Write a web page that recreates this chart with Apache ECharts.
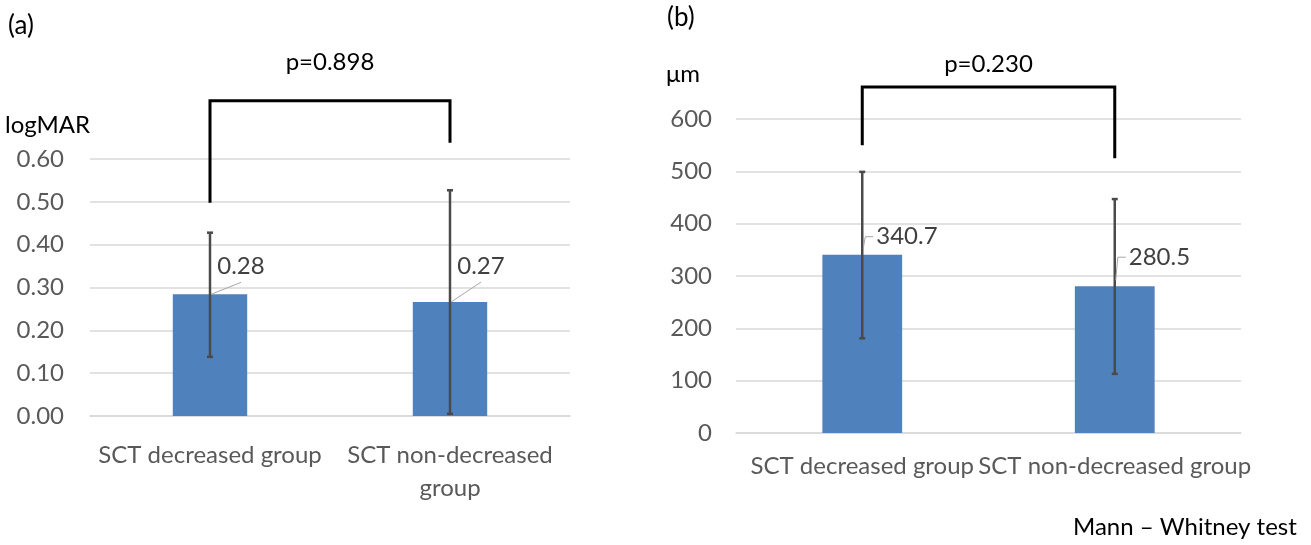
<!DOCTYPE html>
<html>
<head>
<meta charset="utf-8">
<script src="https://cdn.jsdelivr.net/npm/echarts@6/dist/echarts.min.js"></script>
<style>html,body{margin:0;padding:0;background:#fff}#c{width:1311px;height:545px}</style>
</head>
<body>
<div id="c"></div>
<script>
// ---- data ----
const categories = ['SCT decreased group', 'SCT non-decreased group'];
const logmarMean = [0.284, 0.266];
const logmarLabels = ['0.28', '0.27'];
const logmarLow = [0.138, 0.005];
const logmarHigh = [0.428, 0.527];
const sctMean = [340.7, 280.5];
const sctLabels = ['340.7', '280.5'];
const sctLow = [181, 113];
const sctHigh = [499, 447];
const logmarAxis = { min: 0, max: 0.6, step: 0.1 };
const sctAxis = { min: 0, max: 600, step: 100 };
const pValues = ['p=0.898', 'p=0.230'];
// bracket: [top, left end, right end, p-text level] in axis units
const logmarBracket = [0.736, 0.498, 0.638, 0.827];
const sctBracket = [661, 550, 525, 705];

const FONT = 'Lato, "Open Sans", sans-serif';
const chart = echarts.init(document.getElementById('c'), null, { renderer: 'canvas' });

function errItem(params, api) {
  const x = api.value(0);
  const lo = api.coord([x, api.value(1)]);
  const hi = api.coord([x, api.value(2)]);
  const st = { stroke: '#4a4a4a', lineWidth: 2.5 };
  return { type: 'group', children: [
    { type: 'line', shape: { x1: lo[0], y1: lo[1], x2: hi[0], y2: hi[1] }, style: st },
    { type: 'line', shape: { x1: hi[0] - 3, y1: hi[1], x2: hi[0] + 3, y2: hi[1] }, style: st },
    { type: 'line', shape: { x1: lo[0] - 3, y1: lo[1], x2: lo[0] + 3, y2: lo[1] }, style: st }
  ]};
}
function makeBracket(pText) {
  return function (params, api) {
    const top = api.value(2), le = api.value(3), re = api.value(4), pt = api.value(5);
    const a = api.coord([api.value(0), le]);
    const b = api.coord([api.value(0), top]);
    const c = api.coord([api.value(1), top]);
    const d = api.coord([api.value(1), re]);
    const ty = api.coord([api.value(0), pt])[1];
    return { type: 'group', children: [
      { type: 'polyline', shape: { points: [a, b, c, d] }, style: { stroke: '#000', lineWidth: 3, fill: null } },
      { type: 'text', x: (b[0] + c[0]) / 2, y: ty, style: { text: pText, font: '24px ' + FONT, fill: '#000', align: 'center', verticalAlign: 'middle' } }
    ]};
  };
}
// value labels with Excel-style leader lines; offsets are layout (pixels), per chart
function makeValueLabel(texts, offsets, bent) {
  return function (params, api) {
    const i = params.dataIndex;
    const p = api.coord([api.value(0), api.value(1)]);
    const off = offsets[i];
    const lx = p[0] + off[0], ly = p[1] + off[1];
    const children = [
      { type: 'text', x: lx, y: ly, style: { text: texts[i], font: '24px ' + FONT, fill: '#404040', align: bent ? 'left' : 'center', verticalAlign: 'middle' } }
    ];
    if (bent) {
      children.push({ type: 'polyline', shape: { points: [[p[0] + 1, p[1] - 6], [p[0] + 3, ly], [lx - 3, ly]] }, style: { stroke: '#a6a6a6', lineWidth: 1, fill: null } });
    } else {
      children.push({ type: 'line', shape: { x1: p[0] + 1, y1: p[1], x2: lx, y2: ly + 16 }, style: { stroke: '#a6a6a6', lineWidth: 1 } });
    }
    return { type: 'group', children };
  };
}

const axisLabelStyle = { color: '#595959', fontSize: 24, fontFamily: FONT };

chart.setOption({
  animation: false,
  textStyle: { fontFamily: FONT },
  graphic: [
    { type: 'text', left: 8, top: 13, style: { text: '(a)', font: '26px ' + FONT, fill: '#000' } },
    { type: 'text', left: 667, top: 5, style: { text: '(b)', font: '26px ' + FONT, fill: '#000' } },
    { type: 'text', left: 1073, top: 515, style: { text: 'Mann \u2013 Whitney test', font: '24px ' + FONT, fill: '#000' } }
  ],
  grid: [
    { left: 90, right: 741, top: 159, bottom: 129 },
    { left: 736, right: 70, top: 119, bottom: 112 }
  ],
  xAxis: [
    { type: 'category', gridIndex: 0, data: categories,
      axisLine: { lineStyle: { color: '#d9d9d9', width: 1.5 } }, axisTick: { show: false },
      axisLabel: Object.assign({}, axisLabelStyle, { interval: 0, margin: 23, lineHeight: 33,
        formatter: v => v === 'SCT non-decreased group' ? 'SCT non-decreased\ngroup' : v }) },
    { type: 'category', gridIndex: 1, data: categories,
      axisLine: { lineStyle: { color: '#d9d9d9', width: 1.5 } }, axisTick: { show: false },
      axisLabel: Object.assign({}, axisLabelStyle, { interval: 0, margin: 21 }) }
  ],
  yAxis: [
    { type: 'value', gridIndex: 0, min: logmarAxis.min, max: logmarAxis.max, interval: logmarAxis.step,
      name: 'logMAR', nameLocation: 'end', nameGap: 22,
      nameTextStyle: { color: '#000', fontSize: 24, fontFamily: FONT, align: 'right', padding: [0, 0, 0, 0] },
      axisLine: { show: false }, axisTick: { show: false },
      splitLine: { lineStyle: { color: '#d9d9d9', width: 1.5 } },
      axisLabel: Object.assign({}, axisLabelStyle, { margin: 26, formatter: v => v.toFixed(2) }) },
    { type: 'value', gridIndex: 1, min: sctAxis.min, max: sctAxis.max, interval: sctAxis.step,
      name: '\u03bcm', nameLocation: 'end', nameGap: 33,
      nameTextStyle: { color: '#000', fontSize: 24, fontFamily: FONT, align: 'right', padding: [0, 36, 0, 0] },
      axisLine: { show: false }, axisTick: { show: false },
      splitLine: { lineStyle: { color: '#d9d9d9', width: 1.5 } },
      axisLabel: Object.assign({}, axisLabelStyle, { margin: 24 }) }
  ],
  series: [
    { type: 'bar', xAxisIndex: 0, yAxisIndex: 0, data: logmarMean, barWidth: '31%',
      itemStyle: { color: '#4F81BD' } },
    { type: 'custom', xAxisIndex: 0, yAxisIndex: 0, renderItem: errItem, z: 5,
      data: categories.map((c, i) => [i, logmarLow[i], logmarHigh[i]]) },
    { type: 'custom', xAxisIndex: 0, yAxisIndex: 0, z: 6, clip: false,
      renderItem: makeValueLabel(logmarLabels, [[31, -28], [31, -36]], false),
      data: categories.map((c, i) => [i, logmarMean[i]]) },
    { type: 'custom', xAxisIndex: 0, yAxisIndex: 0, renderItem: makeBracket(pValues[0]), z: 6, clip: false,
      data: [[0, 1, logmarBracket[0], logmarBracket[1], logmarBracket[2], logmarBracket[3]]] },
    { type: 'bar', xAxisIndex: 1, yAxisIndex: 1, data: sctMean, barWidth: '31.6%',
      itemStyle: { color: '#4F81BD' } },
    { type: 'custom', xAxisIndex: 1, yAxisIndex: 1, renderItem: errItem, z: 5,
      data: categories.map((c, i) => [i, sctLow[i], sctHigh[i]]) },
    { type: 'custom', xAxisIndex: 1, yAxisIndex: 1, z: 6, clip: false,
      renderItem: makeValueLabel(sctLabels, [[14, -18], [14, -29]], true),
      data: categories.map((c, i) => [i, sctMean[i]]) },
    { type: 'custom', xAxisIndex: 1, yAxisIndex: 1, renderItem: makeBracket(pValues[1]), z: 6, clip: false,
      data: [[0, 1, sctBracket[0], sctBracket[1], sctBracket[2], sctBracket[3]]] }
  ]
});
</script>
</body>
</html>
